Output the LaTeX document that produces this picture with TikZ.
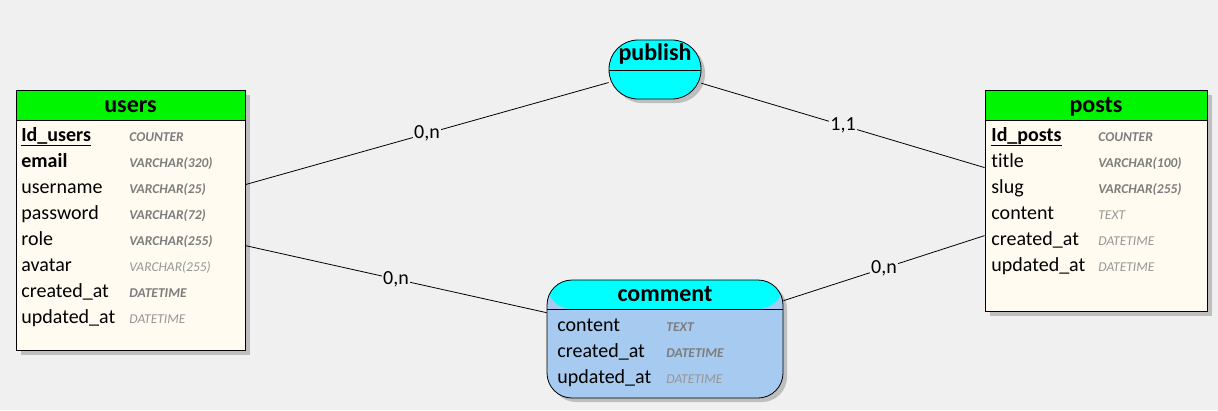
\documentclass[tikz,border=0pt]{standalone}
\usepackage{fontspec}
\setmainfont[Ligatures=NoCommon]{Carlito}
\usepackage{tikz}
\usetikzlibrary{positioning,shadows}
\definecolor{erbg}{RGB}{240,240,240}
\definecolor{ergreen}{RGB}{0,245,0}
\definecolor{ercream}{RGB}{255,251,240}
\definecolor{ercyan}{RGB}{0,255,255}
\definecolor{erblue}{RGB}{166,202,240}
\definecolor{ershadow}{RGB}{190,190,190}
\definecolor{ertype}{RGB}{125,125,125}
\definecolor{ertypeL}{RGB}{150,150,150}

\begin{document}
\begin{tikzpicture}[x=1pt, y=-1pt,
  line width=0.8pt,
  hdr/.style 2 args={path picture={
      \fill[#1] (path picture bounding box.north west)
        rectangle ([yshift=-#2]path picture bounding box.north east);
      \draw ([yshift=-#2]path picture bounding box.north west)
        -- ([yshift=-#2]path picture bounding box.north east);}},
  entity/.style={rectangle, draw=black, fill=ercream, inner sep=0pt,
    drop shadow={shadow xshift=5pt, shadow yshift=-5pt,
      fill=ershadow, opacity=1},
    hdr={ergreen}{30pt}},
  assoc/.style={rectangle, draw=black, fill=erblue, inner sep=0pt,
    drop shadow={shadow xshift=4pt, shadow yshift=-4pt,
      fill=ershadow, opacity=1}},
  title/.style={anchor=base, inner sep=0pt,
    font=\fontsize{24}{28}\selectfont\bfseries},
  field/.style={anchor=base west, inner sep=0pt,
    font=\fontsize{20}{24}\selectfont},
  typeb/.style={anchor=base west, inner sep=0pt, text=ertype,
    font=\fontsize{13.5}{16}\selectfont\bfseries\itshape},
  typel/.style={anchor=base west, inner sep=0pt, text=ertypeL,
    font=\fontsize{13.5}{16}\selectfont\itshape},
  link/.style={draw=black, line width=0.8pt},
  card/.style={fill=erbg, inner sep=1.5pt,
    font=\fontsize{20}{24}\selectfont},
]
\fill[erbg] (0,0) rectangle (1218,410);

% entities
\node[entity, minimum width=229pt, minimum height=260pt]
  (users) at (130.5,220) {};
\node[title] (users-title) at ([yshift=-23pt]users.north) {users};
\foreach \fn/\ft/\fs [count=\i from 0] in {
    {\underline{\textbf{Id\_users}}}/COUNTER/typeb,
    {\textbf{email}}/VARCHAR(320)/typeb,
    username/VARCHAR(25)/typeb,
    password/VARCHAR(72)/typeb,
    role/VARCHAR(255)/typeb,
    avatar/VARCHAR(255)/typel,
    created\_at/DATETIME/typeb,
    updated\_at/DATETIME/typel}{
  \node[field] (users-f\i) at (21,{141+26*\i}) {\fn};
  \node[\fs] (users-t\i) at (129,{141+26*\i}) {\ft};
}

\node[entity, minimum width=222pt, minimum height=221pt]
  (posts) at (1096,200.5) {};
\node[title] (posts-title) at ([yshift=-23pt]posts.north) {posts};
\foreach \fn/\ft/\fs [count=\i from 0] in {
    {\underline{\textbf{Id\_posts}}}/COUNTER/typeb,
    title/VARCHAR(100)/typeb,
    slug/VARCHAR(255)/typeb,
    content/TEXT/typel,
    created\_at/DATETIME/typel,
    updated\_at/DATETIME/typel}{
  \node[field] (posts-f\i) at (991,{141+26*\i}) {\fn};
  \node[\fs] (posts-t\i) at (1098,{141+26*\i}) {\ft};
}

% associations
\node[assoc, fill=ercyan, rounded corners=29pt, hdr={ercyan}{30pt},
  minimum width=92pt, minimum height=59pt] (publish) at (655,69.5) {};
\node[title] (publish-title) at ([yshift=-21pt]publish.north) {publish};

\node[assoc, rounded corners=25pt, hdr={ercyan}{29pt},
  minimum width=236pt, minimum height=118pt] (comment) at (665,339) {};
\node[title] (comment-title) at ([yshift=-22pt]comment.north) {comment};
\foreach \fn/\ft/\fs [count=\i from 0] in {
    content/TEXT/typeb,
    created\_at/DATETIME/typeb,
    updated\_at/DATETIME/typel}{
  \node[field] (comment-f\i) at (557,{331+26*\i}) {\fn};
  \node[\fs] (comment-t\i) at (666,{331+26*\i}) {\ft};
}

% links
\draw[link] ([yshift=-95pt]users.north east) -- node[card] {0,n} (publish);
\draw[link] (publish) -- node[card] {1,1} ([yshift=-78pt]posts.north west);
\draw[link] ([yshift=-156pt]users.north east) -- node[card] {0,n} (comment);
\draw[link] (comment) -- node[card] {0,n} ([yshift=-146pt]posts.north west);
\end{tikzpicture}
\end{document}
